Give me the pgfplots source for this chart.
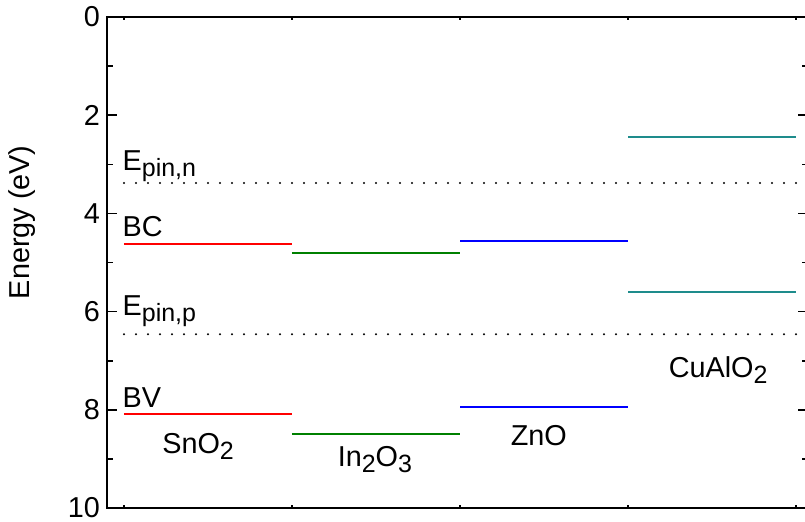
\documentclass[border=0pt]{standalone}
\usepackage{pgfplots}
\pgfplotsset{compat=1.18}
\usepackage{fontspec}
\setmainfont{Liberation Sans}
\definecolor{myred}{RGB}{255,0,0}
\definecolor{mygreen}{RGB}{0,128,0}
\definecolor{myblue}{RGB}{0,0,255}
\definecolor{myteal}{RGB}{30,140,140}
\newcommand\sub[1]{\raisebox{-0.4ex}{\fontsize{12.5}{14}\selectfont #1}}
\begin{document}
\begin{tikzpicture}
\begin{axis}[
 scale only axis, width=350.5pt, height=245.5pt,
 xmin=-0.101, xmax=4.071, ymin=0, ymax=10, y dir=reverse,
 xtick={0,1,2,3,4}, xticklabels={},
 xtick style={/pgfplots/major tick length=1.5pt},
 ytick={0,2,4,6,8,10}, minor ytick={1,3,5,7,9},
 tick align=inside, major tick length=5pt, minor tick length=3pt,
 axis line style={line width=0.9pt},
 every tick/.style={black, line width=0.8pt},
 font=\fontsize{14.4}{17}\selectfont,
 /pgf/number format/assume math mode=true,
 ylabel={Energy (eV)},
 ylabel style={at={(axis description cs:-0.121,0.582)}, anchor=center},
 clip=false,
]
\coordinate (bbl) at (axis description cs:-0.1526,-0.0265);
\coordinate (btr) at (axis description cs:0.9957,1.0346);
% pinning levels
\addplot[black, line width=1.1pt, line cap=round, dash pattern=on 0pt off 6pt] coordinates {(0,3.38) (4,3.38)};
\addplot[black, line width=1.1pt, line cap=round, dash pattern=on 0pt off 6pt] coordinates {(0,6.46) (4,6.46)};
% SnO2
\addplot[myred, line width=1pt] coordinates {(0,4.62) (1,4.62)};
\addplot[myred, line width=1pt] coordinates {(0,8.09) (1,8.09)};
% In2O3
\addplot[mygreen, line width=1pt] coordinates {(1,4.81) (2,4.81)};
\addplot[mygreen, line width=1pt] coordinates {(1,8.49) (2,8.49)};
% ZnO
\addplot[myblue, line width=1pt] coordinates {(2,4.56) (3,4.56)};
\addplot[myblue, line width=1pt] coordinates {(2,7.94) (3,7.94)};
% CuAlO2
\addplot[myteal, line width=1pt] coordinates {(3,2.44) (4,2.44)};
\addplot[myteal, line width=1pt] coordinates {(3,5.60) (4,5.60)};
% labels
\node[anchor=base west, inner sep=0] at (axis cs:-0.01,3.12) {E\sub{pin,n}};
\node[anchor=base west, inner sep=0] at (axis cs:-0.01,4.48) {BC};
\node[anchor=base west, inner sep=0] at (axis cs:-0.01,6.07) {E\sub{pin,p}};
\node[anchor=base west, inner sep=0] at (axis cs:-0.01,7.96) {BV};
\node[anchor=base west, inner sep=0] at (axis cs:0.226,8.88) {SnO\sub{2}};
\node[anchor=base west, inner sep=0] at (axis cs:1.27,9.16) {In\sub{2}O\sub{3}};
\node[anchor=base west, inner sep=0] at (axis cs:2.30,8.72) {ZnO};
\node[anchor=base west, inner sep=0] at (axis cs:3.24,7.35) {CuAlO\sub{2}};
\end{axis}
\pgfresetboundingbox
\path (bbl) rectangle (btr);
\end{tikzpicture}
\end{document}
